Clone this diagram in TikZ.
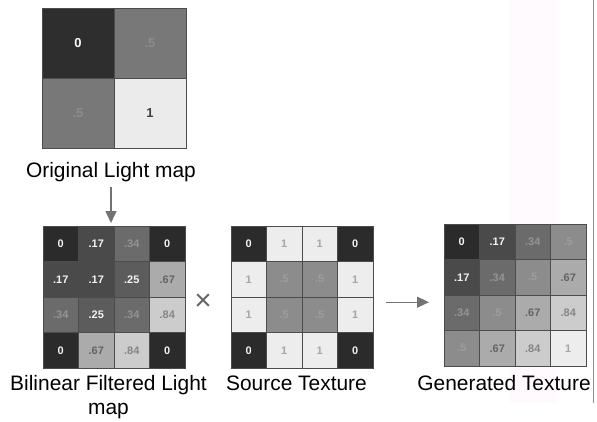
\documentclass[tikz,border=0pt]{standalone}
\usepackage{fontspec}
\setmainfont{Liberation Sans}
\usetikzlibrary{arrows.meta}

\definecolor{pinkband}{RGB}{254,250,254}

\tikzset{
  lbl/.style={font=\fontsize{21}{24}\selectfont, inner sep=0pt},
  cell/.style={draw=black!70, line width=0.5bp, inner sep=0pt, font=\fontsize{11}{12}\selectfont\bfseries},
  grayarrow/.style={draw=black!55, line width=1.4bp, -{Triangle[width=11bp,length=12bp]}},
}

% 4x4 block of shaded cells, shade follows the value
\newcommand{\texgrid}[4]{%
  \node[inner sep=0pt, minimum size=142bp, anchor=north west] (#1) at (#2,#3) {};
  \foreach \v [count=\i from 0] in {#4} {
    \pgfmathtruncatemacro\row{floor(\i/4)}
    \pgfmathtruncatemacro\col{mod(\i,4)}
    \pgfmathtruncatemacro\lev{17+76*(0\v)}
    \pgfmathtruncatemacro\ink{(0\v)<0.3 ? 95 : ((0\v)<0.45 ? \lev+16 : ((0\v)<0.55 ? \lev+7 : \lev-28))}
    \pgfmathtruncatemacro\bgk{100-\lev}
    \pgfmathtruncatemacro\txk{100-\ink}
    \node[cell, minimum size=35.5bp, fill=black!\bgk, text=black!\txk]
      (#1-\row-\col) at (#2+35.5*\col+17.75, #3+35.5*\row+17.75) {\v};
  }
}

\begin{document}
\begin{tikzpicture}[x=1bp, y=-1bp]

	\useasboundingbox (0,0) rectangle (597,421);
	\fill[pinkband] (510,0) rectangle (557,403);
	\draw[black!45, line width=0.8bp] (593,0) -- (593,403);

	% original light map
	\node[cell, minimum width=72bp, minimum height=70bp, fill=black!82, text=white, font=\fontsize{13}{14}\selectfont\bfseries] (orig-0-0) at (78,43) {0};
	\node[cell, minimum width=72bp, minimum height=70bp, fill=black!53, text=black!45, font=\fontsize{13}{14}\selectfont\bfseries] (orig-0-1) at (150,43) {.5};
	\node[cell, minimum width=72bp, minimum height=70bp, fill=black!53, text=black!45, font=\fontsize{13}{14}\selectfont\bfseries] (orig-1-0) at (78,113) {.5};
	\node[cell, minimum width=72bp, minimum height=70bp, fill=black!8, text=black!75, font=\fontsize{13}{14}\selectfont\bfseries] (orig-1-1) at (150,113) {1};
	\node[lbl, anchor=base] (origlbl) at (111,177) {Original Light map};

	% bilinear filtered, source, generated
	\texgrid{bilin}{43}{226}{0,.17,.34,0,.17,.17,.25,.67,.34,.25,.34,.84,0,.67,.84,0}
	\texgrid{source}{231}{226}{0,1,1,0,1,.5,.5,1,1,.5,.5,1,0,1,1,0}
	\texgrid{gen}{444}{224}{0,.17,.34,.5,.17,.34,.5,.67,.34,.5,.67,.84,.5,.67,.84,1}

	\node[lbl, anchor=north, align=center] (bilinlbl) at (108.5,375) {Bilinear Filtered Light\\map};
	\node[lbl, anchor=base] (sourcelbl) at (296.5,390) {Source Texture};
	\node[lbl, anchor=base] (genlbl) at (504,390) {Generated Texture};

	\node[text=black!60, font=\fontsize{30}{30}\selectfont, inner sep=0pt] (times) at (203,302) {×};

	\draw[grayarrow, shorten <=5bp, shorten >=3bp] (origlbl.south) -- (origlbl.south |- bilin.north);
	\draw[grayarrow, shorten <=13bp, shorten >=15bp] ([yshift=-5bp]source.east) -- ([yshift=-5bp]source.east -| gen.west);

\end{tikzpicture}
\end{document}
